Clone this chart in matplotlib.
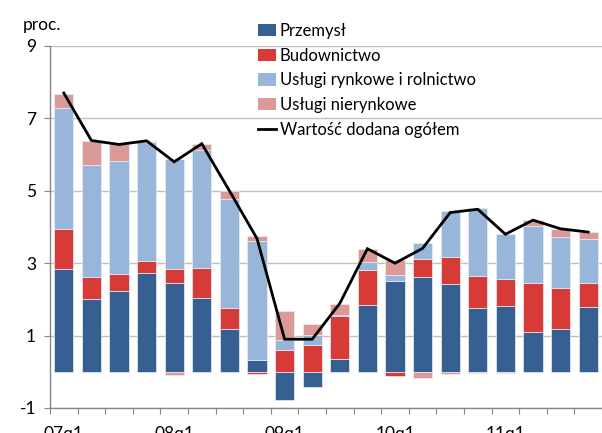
import numpy as np
import matplotlib
matplotlib.use("Agg")
import matplotlib.pyplot as plt
from matplotlib.lines import Line2D
from matplotlib.patches import Patch

plt.rcParams['font.family'] = ['Lato', 'DejaVu Sans']

quarters = ['07q1','07q2','07q3','07q4','08q1','08q2','08q3','08q4',
            '09q1','09q2','09q3','09q4','10q1','10q2','10q3','10q4',
            '11q1','11q2','11q3','11q4']
tick_labels = ['07q1', '08q1', '09q1', '10q1', '11q1']

przemysl    = [2.84, 2.01, 2.22, 2.72, 2.44, 2.04, 1.19, 0.33, -0.79, -0.43,
               0.36, 1.85, 2.52, 2.63, 2.43, 1.77, 1.83, 1.10, 1.17, 1.78]
budownictwo = [1.10, 0.62, 0.49, 0.33, 0.40, 0.84, 0.58, -0.05, 0.59, 0.75,
               1.19, 0.97, -0.11, 0.49, 0.74, 0.88, 0.73, 1.36, 1.14, 0.68]
uslugi_rynk = [3.34, 3.09, 3.10, 3.29, 3.04, 3.24, 3.00, 3.28, 0.28, 0.26,
               0.03, 0.20, 0.16, 0.44, 1.28, 1.87, 1.25, 1.58, 1.42, 1.20]
uslugi_nier = [0.39, 0.66, 0.47, 0.04, -0.10, 0.17, 0.22, 0.13, 0.81, 0.31,
               0.30, 0.37, 0.41, -0.16, -0.05, -0.04, -0.03, 0.15, 0.22, 0.20]
wartosc     = [7.70, 6.39, 6.28, 6.38, 5.80, 6.30, 5.00, 3.68, 0.90, 0.90,
               1.89, 3.40, 3.00, 3.41, 4.40, 4.49, 3.80, 4.19, 3.95, 3.86]

names = ['Przemysł', 'Budownictwo', 'Usługi rynkowe i rolnictwo', 'Usługi nierynkowe']
colors = ['#366092', '#D63B38', '#98B6DA', '#DB9997']
series = [przemysl, budownictwo, uslugi_rynk, uslugi_nier]

fig = plt.figure(figsize=(6.02, 4.33), dpi=100)
ax = fig.add_axes([50/602, 1-408/433, 552/602, (408-46)/433])

x = np.arange(len(quarters))
pos = np.zeros(len(x))
neg = np.zeros(len(x))
for vals, c in zip(series, colors):
    v = np.array(vals)
    bottom = np.where(v >= 0, pos, neg)
    ax.bar(x, v, width=0.69, bottom=bottom, color=c, edgecolor='#e8eef6',
           linewidth=0.5, zorder=3)
    pos = pos + np.where(v >= 0, v, 0)
    neg = neg + np.where(v < 0, v, 0)

ax.plot(x, wartosc, color='black', lw=2.0, zorder=4, solid_joinstyle='miter')

ax.set_xlim(-0.5, len(x) - 0.5)
ax.set_ylim(-1, 9)
ax.set_yticks([-1, 1, 3, 5, 7, 9])
ax.set_yticklabels(['-1', '1', '3', '5', '7', '9'])
ax.grid(axis='y', color='#bfbfbf', lw=1.0, zorder=0)
ax.set_axisbelow(True)

ax.set_xticks(np.arange(-0.5, len(x), 1.0))
ax.set_xticklabels([])
ax.set_xticks([quarters.index(t) for t in tick_labels], minor=True)
ax.set_xticklabels(tick_labels, minor=True)
ax.tick_params(axis='x', which='major', length=4, color='#868686', direction='out')
ax.tick_params(axis='x', which='minor', length=0, pad=13, labelsize=12.5)
ax.tick_params(axis='y', length=4, color='#868686', pad=6, labelsize=12.5)

for s in ['top', 'right']:
    ax.spines[s].set_visible(False)
for s in ['left', 'bottom']:
    ax.spines[s].set_color('#868686')
    ax.spines[s].set_linewidth(1.0)

fig.text(23/602, 1-30/433, 'proc.', fontsize=12.5, va='baseline', ha='left')

handles = [Patch(facecolor=c, edgecolor='none') for c in colors]
handles.append(Line2D([0], [0], color='black', lw=2.0))
labels = names + ['Wartość dodana ogółem']
fig.legend(handles, labels, loc='upper left', bbox_to_anchor=(258/602, 1-23/433),
           frameon=False, fontsize=12, handlelength=1.1, handleheight=0.75,
           handletextpad=0.2, labelspacing=0.52, borderpad=0, borderaxespad=0)

fig.savefig('out.png', dpi=100)
